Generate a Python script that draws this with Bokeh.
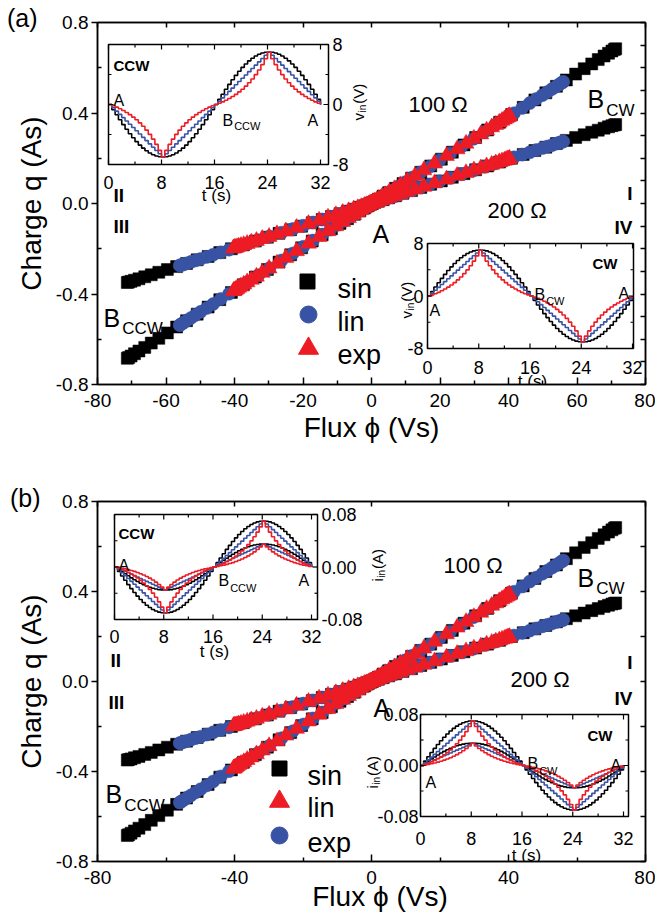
import numpy as np
from bokeh.plotting import figure
from bokeh.layouts import column
from bokeh.models import Range1d, LinearAxis, FixedTicker, PrintfTickFormatter, CustomJSTickFormatter, Div
from bokeh.embed import file_html
from bokeh.resources import INLINE
from bokeh.core.properties import value

FONT = "Liberation Sans"
BLACK, BLUE, RED = "#000000", "#3953a4", "#ed1c24"

# ---------------- main plot data (one branch; the other loop has opposite sign) ----------------
flux_sin = [0.0, 0.3, 1.0, 2.0, 3.4, 5.0, 7.0, 9.2, 11.7, 14.4, 17.3, 20.4, 23.6, 27.0, 30.4, 33.9,
            37.4, 40.9, 44.3, 47.7, 50.9, 54.0, 56.9, 59.6, 62.1, 64.3, 66.2, 67.9, 69.2, 70.2, 70.9, 71.3]
q100_sin = [0.0, 0.003, 0.010, 0.019, 0.033, 0.048, 0.067, 0.088, 0.112, 0.138, 0.166, 0.196, 0.227, 0.259, 0.292, 0.325,
            0.359, 0.393, 0.425, 0.458, 0.489, 0.518, 0.546, 0.572, 0.596, 0.617, 0.636, 0.652, 0.664, 0.674, 0.681, 0.684]
q200_sin = [0.0, 0.001, 0.005, 0.010, 0.017, 0.025, 0.034, 0.045, 0.057, 0.071, 0.085, 0.100, 0.116, 0.132, 0.149, 0.166,
            0.183, 0.200, 0.217, 0.234, 0.249, 0.265, 0.279, 0.292, 0.304, 0.315, 0.324, 0.333, 0.339, 0.344, 0.347, 0.349]
flux_lin = [0.0, 0.2, 0.7, 1.3, 2.2, 3.3, 4.6, 6.1, 7.9, 9.8, 12.0, 14.4, 17.1, 19.9, 23.0, 26.3,
            29.8, 33.0, 36.1, 38.9, 41.6, 44.0, 46.2, 48.1, 49.9, 51.4, 52.7, 53.8, 54.7, 55.3, 55.8, 56.0]
q100_lin = [0.0, 0.002, 0.007, 0.012, 0.021, 0.032, 0.044, 0.059, 0.076, 0.094, 0.115, 0.138, 0.164, 0.191, 0.221, 0.252,
            0.286, 0.317, 0.347, 0.373, 0.399, 0.422, 0.444, 0.462, 0.479, 0.493, 0.506, 0.516, 0.525, 0.531, 0.536, 0.538]
q200_lin = [0.0, 0.001, 0.003, 0.006, 0.011, 0.016, 0.023, 0.030, 0.039, 0.048, 0.059, 0.071, 0.084, 0.098, 0.113, 0.129,
            0.146, 0.162, 0.177, 0.191, 0.204, 0.216, 0.226, 0.236, 0.245, 0.252, 0.258, 0.264, 0.268, 0.271, 0.273, 0.274]
flux_exp = [0.0, 0.1, 0.3, 0.5, 0.9, 1.5, 2.1, 3.0, 4.0, 5.2, 6.7, 8.4, 10.4, 12.7, 15.3, 18.4,
            21.9, 25.0, 27.6, 29.9, 31.9, 33.6, 35.1, 36.3, 37.3, 38.1, 38.8, 39.3, 39.7, 40.0, 40.2, 40.3]
q100_exp = [0.0, 0.001, 0.003, 0.005, 0.009, 0.014, 0.020, 0.029, 0.038, 0.050, 0.064, 0.081, 0.100, 0.122, 0.147, 0.177,
            0.210, 0.240, 0.265, 0.287, 0.306, 0.323, 0.337, 0.348, 0.358, 0.366, 0.372, 0.377, 0.381, 0.384, 0.386, 0.387]
q200_exp = [0.0, 0.0005, 0.001, 0.002, 0.004, 0.007, 0.010, 0.015, 0.020, 0.025, 0.033, 0.041, 0.051, 0.062, 0.075, 0.090,
            0.107, 0.123, 0.135, 0.147, 0.156, 0.165, 0.172, 0.178, 0.183, 0.187, 0.190, 0.193, 0.195, 0.196, 0.197, 0.198]

# ---------------- inset data: rising quarter cycle, one level every 0.5 s ----------------
t_step_s = 0.5
n_steps = 64
v_sin = [0, 0.69, 1.37, 2.03, 2.68, 3.30, 3.89, 4.44, 4.95, 5.41, 5.82, 6.17, 6.47, 6.70, 6.87, 6.97, 7.00]
v_lin = [0, 0.44, 0.88, 1.31, 1.75, 2.19, 2.63, 3.06, 3.50, 3.94, 4.38, 4.81, 5.25, 5.69, 6.13, 6.56, 7.00]
v_exp = [0, 0.17, 0.35, 0.56, 0.80, 1.06, 1.35, 1.68, 2.04, 2.45, 2.90, 3.41, 3.98, 4.61, 5.32, 6.11, 7.00]
i100_sin = [0, 0.0069, 0.0137, 0.0203, 0.0268, 0.0330, 0.0389, 0.0444, 0.0495, 0.0541, 0.0582, 0.0617, 0.0647, 0.0670, 0.0687, 0.0697, 0.0700]
i100_lin = [0, 0.0044, 0.0088, 0.0131, 0.0175, 0.0219, 0.0263, 0.0306, 0.0350, 0.0394, 0.0438, 0.0481, 0.0525, 0.0569, 0.0613, 0.0656, 0.0700]
i100_exp = [0, 0.0017, 0.0035, 0.0056, 0.0080, 0.0106, 0.0135, 0.0168, 0.0204, 0.0245, 0.0290, 0.0341, 0.0398, 0.0461, 0.0532, 0.0611, 0.0700]
i200_sin = [0, 0.0035, 0.0069, 0.0102, 0.0134, 0.0165, 0.0195, 0.0222, 0.0248, 0.0271, 0.0291, 0.0309, 0.0324, 0.0335, 0.0344, 0.0349, 0.0350]
i200_lin = [0, 0.0022, 0.0044, 0.0066, 0.0088, 0.0109, 0.0131, 0.0153, 0.0175, 0.0197, 0.0219, 0.0241, 0.0263, 0.0284, 0.0306, 0.0328, 0.0350]
i200_exp = [0, 0.0008, 0.0018, 0.0028, 0.0040, 0.0053, 0.0067, 0.0084, 0.0102, 0.0122, 0.0145, 0.0170, 0.0199, 0.0231, 0.0266, 0.0306, 0.0350]

# ---------------- ticks & labels ----------------
x_ticks_a = [-80, -60, -40, -20, 0, 20, 40, 60, 80]
x_minor_a = [-70, -50, -30, -10, 10, 30, 50, 70]
x_ticks_b = [-80, -40, 0, 40, 80]
x_minor_b = [-60, -20, 20, 60]
y_ticks = [-0.8, -0.4, 0.0, 0.4, 0.8]
y_minor = [-0.6, -0.2, 0.2, 0.6]
right_ticks_a = [-0.8, -0.7, -0.6, -0.5, -0.4, -0.3, -0.2, -0.1, 0.0, 0.1, 0.2, 0.3, 0.4, 0.5, 0.6, 0.7, 0.8]
right_ticks_b = [-0.8, -0.6, -0.4, -0.2, 0.0, 0.2, 0.4, 0.6, 0.8]
inset_t_major = [0, 8, 16, 24, 32]
inset_t_minor = [4, 12, 20, 28]
inset_t_labels = ["0", "8", "16", "24", "32"]
v_ticks = [-8, 0, 8]
v_minor = [-4, 4]
v_labels = ["-8", "0", "8"]
i_ticks = [-0.08, 0.0, 0.08]
i_minor = [-0.04, 0.04]
i_labels = ["-0.08", "0.00", "0.08"]
legend_a = ["sin", "lin", "exp"]
legend_b = ["sin", "lin", "exp"]
x_title = "Flux ϕ (Vs)"
y_title = "Charge q (As)"


def cycle(quarter, sign):
    half = list(quarter) + list(quarter[-2::-1])
    return [sign * v for v in half[:-1]] + [-sign * v for v in half[:-1]] + [0.0]


t_s = [k * t_step_s for k in range(n_steps + 1)]

WID = {"a": 0.556, "b": 0.556, "c": 0.5, "e": 0.556, "i": 0.222, "n": 0.556, "p": 0.556, "s": 0.5,
       "v": 0.5, "x": 0.5, " ": 0.278, "(": 0.333, ")": 0.333, "A": 0.667, "B": 0.667, "C": 0.722,
       "V": 0.667, "W": 0.944}


def tw(s, size):
    return sum(WID.get(c, 0.556) for c in s) * size


def txt(p, x, y, s, size, align="left", baseline="alphabetic", bold=False, angle=0.0, xr="px", yr="px"):
    p.text(x=[x], y=[y], text=[s], x_range_name=xr, y_range_name=yr,
           text_font=value(FONT), text_font_size=value(f"{size}px"),
           text_font_style="bold" if bold else "normal",
           text_align=align, text_baseline=baseline, angle=angle, text_color="black")


def sub_label(p, x, y, main, sub, size, subsize, drop, gap=1):
    txt(p, x, y, main, size)
    txt(p, x + tw(main, size) + gap, y + drop, sub, subsize)


def vsub_label(p, x, y, main, sub, rest, size, subsize, drop):
    txt(p, x, y, main, size, angle=np.pi / 2)
    y1 = y - tw(main, size) - 0.5
    txt(p, x + drop, y1, sub, subsize, angle=np.pi / 2)
    y2 = y1 - tw(sub, subsize) - 1
    txt(p, x, y2, rest, size, angle=np.pi / 2)


def map_range(p0, d0, p1, d1, f_start, f_end):
    k = (d1 - d0) / (p1 - p0)
    return Range1d(start=d0 + (f_start - p0) * k, end=d0 + (f_end - p0) * k)


FIG_W = 655


def build(panel):
    L, R, T, B = panel["frame"]
    c0 = panel["canvas_top"]
    p = figure(width=FIG_W, height=panel["h"], x_range=Range1d(-80, 80), y_range=Range1d(-0.8, 0.8),
               output_backend="svg", toolbar_location=None,
               min_border_left=L, min_border_right=FIG_W - R,
               min_border_top=T - c0, min_border_bottom=c0 + panel["h"] - B,
               background_fill_color="white", border_fill_color="white",
               outline_line_color="black", outline_line_width=1.5)
    p.xgrid.visible = False
    p.ygrid.visible = False
    p.extra_x_ranges = {"px": Range1d(L, R)}
    p.extra_y_ranges = {"px": Range1d(B, T)}

    xa = p.xaxis[0]
    xa.ticker = FixedTicker(ticks=panel["xt"], minor_ticks=panel["xm"])
    xa.formatter = PrintfTickFormatter(format="%d")
    xa.major_tick_in, xa.major_tick_out, xa.minor_tick_in, xa.minor_tick_out = 7, 0, 4, 0
    xa.major_label_standoff = 9
    if panel["x_axis_title"]:
        xa.axis_label = x_title
        xa.axis_label_standoff = 2
        xa.axis_label_text_font = FONT
        xa.axis_label_text_font_size = "28px"
        xa.axis_label_text_font_style = "normal"
        xa.axis_label_text_color = "black"
    ya = p.yaxis[0]
    ya.ticker = FixedTicker(ticks=y_ticks, minor_ticks=y_minor)
    ya.formatter = PrintfTickFormatter(format="%.1f")
    ya.major_tick_in, ya.major_tick_out, ya.minor_tick_in, ya.minor_tick_out = 0, 6, 4, 0
    ya.major_label_standoff = 3
    ya.axis_label = y_title
    ya.axis_label_standoff = 6
    ya.axis_label_text_font = FONT
    ya.axis_label_text_font_size = "28px"
    ya.axis_label_text_font_style = "normal"
    ya.axis_label_text_color = "black"
    for ax in (xa, ya):
        ax.major_label_text_font = FONT
        ax.major_label_text_font_size = "19px"
        ax.major_label_text_color = "black"
        ax.axis_line_color = "black"
        ax.major_tick_line_color = "black"
        ax.minor_tick_line_color = "black"
        ax.axis_line_width = 1.5
        ax.major_tick_line_width = 1.5
        ax.minor_tick_line_width = 1.5

    top = LinearAxis(ticker=FixedTicker(ticks=panel["xt"], minor_ticks=[]),
                     formatter=CustomJSTickFormatter(code="return ''"))
    right = LinearAxis(ticker=FixedTicker(ticks=panel["rt"], minor_ticks=[]),
                       formatter=CustomJSTickFormatter(code="return ''"))
    for ax in (top, right):
        ax.major_tick_in, ax.major_tick_out, ax.minor_tick_in, ax.minor_tick_out = 5, 0, 0, 0
        ax.major_label_text_font_size = "1px"
        ax.major_label_standoff = 0
        ax.axis_line_color = "black"
        ax.major_tick_line_color = "black"
        ax.axis_line_width = 1.5
        ax.major_tick_line_width = 1.5
    p.add_layout(top, "above")
    p.add_layout(right, "right")

    # ---- main data ----
    for flux, q100, q200, marker, col, size in (
            (flux_sin, q100_sin, q200_sin, "square", BLACK, 12),
            (flux_lin, q100_lin, q200_lin, "circle", BLUE, 13),
            (flux_exp, q100_exp, q200_exp, "triangle", RED, 16)):
        xs = list(flux) + [-f for f in flux]
        for q in (q100, q200):
            ys = list(q) + [-v for v in q]
            p.scatter(xs, ys, marker=marker, size=size, fill_color=col, line_color=col, line_width=0.5)

    # ---- insets ----
    for key, ins in panel["insets"].items():
        bl, br, bt, bb = ins["box"]
        xr, yr = "t" + key, "v" + key
        p.extra_x_ranges[xr] = map_range(ins["t_px"][0], 0, ins["t_px"][1], 32, L, R)
        p.extra_y_ranges[yr] = map_range(bb, ins["yt"][0], bt, ins["yt"][-1], B, T)
        p.quad(left=[bl], right=[br], top=[bt], bottom=[bb], x_range_name="px", y_range_name="px",
               fill_color="white", line_color=None)
        for ys, col in ins["series"]:
            p.step(x=t_s, y=ys, mode="after", line_color=col, line_width=1.6,
                   x_range_name=xr, y_range_name=yr)
        p.quad(left=[bl], right=[br], top=[bt], bottom=[bb], x_range_name="px", y_range_name="px",
               fill_color=None, line_color="black", line_width=1.5)
        for ticks, ln in ((inset_t_major, 5), (inset_t_minor, 3)):
            n = len(ticks)
            p.segment(x0=ticks, y0=[bb] * n, x1=ticks, y1=[bb - ln] * n, x_range_name=xr, y_range_name="px",
                      line_color="black", line_width=1.2)
            p.segment(x0=ticks, y0=[bt] * n, x1=ticks, y1=[bt + ln] * n, x_range_name=xr, y_range_name="px",
                      line_color="black", line_width=1.2)
        for ticks, ln in ((ins["yt"], 5), (ins["ym"], 3)):
            n = len(ticks)
            p.segment(x0=[bl] * n, y0=ticks, x1=[bl + ln] * n, y1=ticks, x_range_name="px", y_range_name=yr,
                      line_color="black", line_width=1.2)
            p.segment(x0=[br] * n, y0=ticks, x1=[br - ln] * n, y1=ticks, x_range_name="px", y_range_name=yr,
                      line_color="black", line_width=1.2)
        p.text(x=inset_t_major, y=[ins["xlab_y"]] * 5, text=inset_t_labels, x_range_name=xr, y_range_name="px",
               text_font=value(FONT), text_font_size=value("18px"), text_align="center",
               text_baseline="alphabetic", text_color="black")
        p.text(x=[ins["ylab_x"]] * 3, y=ins["yt"], text=ins["yl"], x_range_name="px", y_range_name=yr,
               text_font=value(FONT), text_font_size=value("18px"), text_align=ins["ylab_align"],
               text_baseline="middle", text_color="black")
        txt(p, ins["ts"][0], ins["ts"][1], "t (s)", 17, align="center")
        vx, vy, vmain, vrest = ins["vlab"]
        vsub_label(p, vx, vy, vmain, "in", vrest, 15, 10, 4)
        txt(p, ins["dir"][0], ins["dir"][1], ins["dir"][2], 15, bold=True)
        txt(p, ins["A1"][0], ins["A1"][1], "A", 16)
        txt(p, ins["A2"][0], ins["A2"][1], "A", 16)
        sub_label(p, ins["B"][0], ins["B"][1], "B", ins["B"][2], 16, 11, ins["B"][3])

    # ---- main annotations ----
    for s, x, y, size, bold, align in panel["labels"]:
        txt(p, x, y, s, size, align=align, bold=bold)
    for x, y, sub, drop in panel["blabels"]:
        sub_label(p, x, y, "B", sub, 25, 17, drop, gap=2)
    # legend
    for (mk, col, size, mx, my), lab, by in zip(panel["leg_marks"], panel["leg_text"], panel["leg_base"]):
        p.scatter([mx], [my], marker=mk, size=size, fill_color=col, line_color=col,
                  x_range_name="px", y_range_name="px")
        txt(p, panel["leg_x"], by, lab, 27)
    return p


H_A, H_B = 468, 444

panel_a = dict(
    h=H_A, canvas_top=0, frame=(97, 645, 22, 384), xt=x_ticks_a, xm=x_minor_a, rt=right_ticks_a,
    x_axis_title=True,
    insets={
        "ccw": dict(box=(108, 328, 44, 164), t_px=(108, 320), yt=v_ticks, ym=v_minor, yl=v_labels,
                    series=[(cycle(v_sin, -1), BLACK), (cycle(v_lin, -1), BLUE), (cycle(v_exp, -1), RED)],
                    xlab_y=182, ylab_x=332, ylab_align="left", ts=(216, 195), vlab=(358, 120, "v", " (V)"),
                    dir=(113, 65, "CCW"), A1=(113, 100), A2=(307, 120), B=(222, 120, "CCW", 5)),
        "cw": dict(box=(427, 633, 243, 348), t_px=(427, 632), yt=v_ticks, ym=v_minor, yl=v_labels,
                   series=[(cycle(v_sin, 1), BLACK), (cycle(v_lin, 1), BLUE), (cycle(v_exp, 1), RED)],
                   xlab_y=367, ylab_x=423, ylab_align="right", ts=(532, 381), vlab=(406, 318, "v", " (V)"),
                   dir=(592, 263, "CW"), A1=(429, 310), A2=(618, 293), B=(534, 294, "CW", 6)),
    },
    labels=[("100 Ω", 408, 104, 22, False, "left"), ("200 Ω", 487, 210, 22, False, "left"),
            ("A", 372, 233, 25, False, "left"), ("I", 632, 193, 19, True, "right"),
            ("IV", 632, 227, 19, True, "right"), ("II", 113, 195, 19, True, "left"),
            ("III", 113, 226, 19, True, "left")],
    blabels=[(587, 98, "CW", 12), (103, 317, "CCW", 11)],
    leg_marks=[("square", BLACK, 15, 307, 281), ("circle", BLUE, 17, 308, 314), ("triangle", RED, 20, 308, 348)],
    leg_text=legend_a, leg_base=[288, 321, 354], leg_x=337,
)

panel_b = dict(
    h=H_B, canvas_top=H_A, frame=(97, 645, 501, 861), xt=x_ticks_b, xm=x_minor_b, rt=right_ticks_b,
    x_axis_title=False,
    insets={
        "ccw": dict(box=(114, 317, 514, 619), t_px=(114, 311), yt=i_ticks, ym=i_minor, yl=i_labels,
                    series=[(cycle(i100_sin, -1), BLACK), (cycle(i200_sin, -1), BLACK),
                            (cycle(i100_lin, -1), BLUE), (cycle(i200_lin, -1), BLUE),
                            (cycle(i100_exp, -1), RED), (cycle(i200_exp, -1), RED)],
                    xlab_y=636, ylab_x=321, ylab_align="left", ts=(214, 651), vlab=(377, 581, "i", " (A)"),
                    dir=(118, 533, "CCW"), A1=(118, 565), A2=(298, 580), B=(218, 580, "CCW", 7)),
        "cw": dict(box=(420, 628, 714, 816), t_px=(420, 623), yt=i_ticks, ym=i_minor, yl=i_labels,
                   series=[(cycle(i100_sin, 1), BLACK), (cycle(i200_sin, 1), BLACK),
                           (cycle(i100_lin, 1), BLUE), (cycle(i200_lin, 1), BLUE),
                           (cycle(i100_exp, 1), RED), (cycle(i200_exp, 1), RED)],
                   xlab_y=838, ylab_x=418, ylab_align="right", ts=(526, 855), vlab=(372, 788, "i", " (A)"),
                   dir=(587, 735, "CW"), A1=(425, 782), A2=(610, 765), B=(527, 763, "CW", 7)),
    },
    labels=[("100 Ω", 443, 565, 22, False, "left"), ("200 Ω", 510, 679, 22, False, "left"),
            ("A", 373, 707, 25, False, "left"), ("I", 632, 662, 19, True, "right"),
            ("IV", 632, 698, 19, True, "right"), ("II", 110, 660, 19, True, "left"),
            ("III", 108, 702, 19, True, "left")],
    blabels=[(577, 577, "CW", 11), (105, 793, "CCW", 12)],
    leg_marks=[("square", BLACK, 15, 279, 768), ("triangle", RED, 20, 279, 801), ("circle", BLUE, 17, 279, 835)],
    leg_text=legend_b, leg_base=[775, 807, 842], leg_x=307,
)

pa = build(panel_a)
pb = build(panel_b)


def overlay_text(text, left, top, width, size, align="left"):
    # absolutely positioned over the figures, in page pixels
    html = (f'<div style="font-family: {FONT}; font-size: {size}px; line-height: {size}px; '
            f'text-align: {align}; width: {width}px; white-space: nowrap; color: black;">{text}</div>')
    return Div(text=html, width=width, height=size,
               styles={"position": "absolute", "left": f"{left}px", "top": f"{top}px",
                       "margin": "0px", "padding": "0px", "z-index": "5"})


tag_a = overlay_text("(a)", 7, 6, 50, 25)
tag_b = overlay_text("(b)", 10, 486, 50, 25)
xlab_b = overlay_text(x_title, 280, 883, 200, 28, align="center")

layout = column(pa, pb, tag_a, tag_b, xlab_b, spacing=0, styles={"position": "relative"})
open("out.html", "w").write(file_html(layout, INLINE, title="charge-flux"))
